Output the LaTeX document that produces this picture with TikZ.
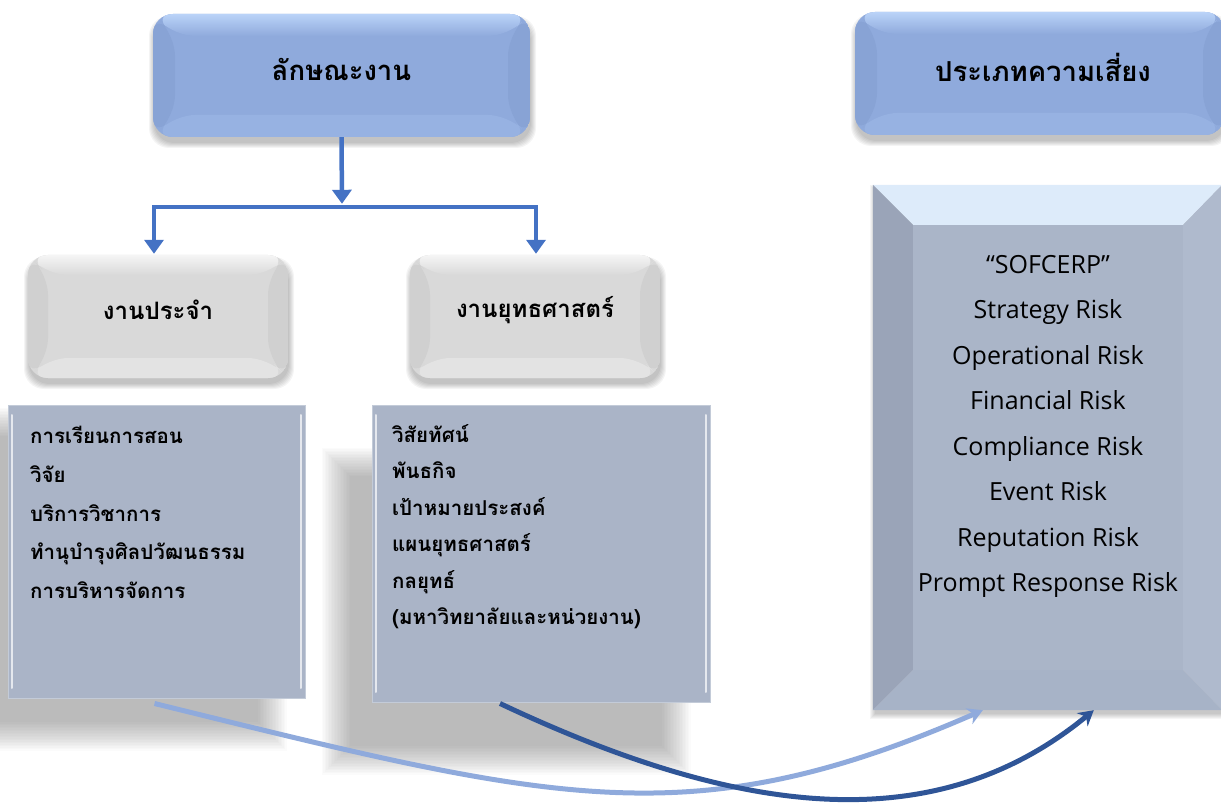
\documentclass[tikz,border=0pt]{standalone}
\usepackage{fontspec}
\newfontfamily\thaifont[Script=Thai]{Loma}
\newfontfamily\engfont{Open Sans}
\usetikzlibrary{arrows.meta,calc}
\definecolor{treeblue}{HTML}{4472C4}
\definecolor{curvelight}{HTML}{8FAADC}
\definecolor{curvedark}{HTML}{2F5597}
\definecolor{bface}{HTML}{8FAADC}
\definecolor{blight}{HTML}{BAD3F8}
\definecolor{bside}{HTML}{88A3D5}
\definecolor{bbottom}{HTML}{97B2E2}
\definecolor{gface}{HTML}{D9D9D9}
\definecolor{glight}{HTML}{F5F5F5}
\definecolor{gside}{HTML}{D0D0D0}
\definecolor{gbottom}{HTML}{E3E3E3}
\definecolor{cface}{HTML}{AAB4C7}
\definecolor{rtop}{HTML}{DDEBFA}
\definecolor{rleft}{HTML}{9AA4B8}
\definecolor{rright}{HTML}{AFBACD}
\definecolor{rbottom}{HTML}{A7B3C7}
\definecolor{rface}{HTML}{AAB5C8}
\newcommand\bevelpp[5]{%
  \fill[#1] (path picture bounding box.south west) rectangle (path picture bounding box.north east);
  \shade[top color=#2,bottom color=#1] (path picture bounding box.north west) -- (path picture bounding box.north east) -- ([shift={(-#5,-#5)}]path picture bounding box.north east) -- ([shift={(#5,-#5)}]path picture bounding box.north west) -- cycle;
  \fill[#3] (path picture bounding box.north west) -- ([shift={(#5,-#5)}]path picture bounding box.north west) -- ([shift={(#5,#5)}]path picture bounding box.south west) -- (path picture bounding box.south west) -- cycle;
  \fill[#3] (path picture bounding box.north east) -- ([shift={(-#5,-#5)}]path picture bounding box.north east) -- ([shift={(-#5,#5)}]path picture bounding box.south east) -- (path picture bounding box.south east) -- cycle;
  \fill[#4] (path picture bounding box.south west) -- ([shift={(#5,#5)}]path picture bounding box.south west) -- ([shift={(-#5,#5)}]path picture bounding box.south east) -- (path picture bounding box.south east) -- cycle;
}
\tikzset{
  bluebox/.style={rounded corners=20pt, inner sep=0pt, path picture={\bevelpp{bface}{blight}{bside}{bbottom}{22pt}}},
  graybox/.style={rounded corners=20pt, inner sep=0pt, path picture={\bevelpp{gface}{glight}{gside}{gbottom}{20pt}}},
  contentbox/.style={inner sep=0pt, fill=cface, draw=cface!70!white, line width=1pt,
    path picture={
      \draw[white,opacity=.7,line width=2pt,line cap=round] ([shift={(4pt,-10pt)}]path picture bounding box.north west) -- ([shift={(4pt,10pt)}]path picture bounding box.south west);
      \draw[white,opacity=.7,line width=2pt,line cap=round] ([shift={(-4pt,-10pt)}]path picture bounding box.north east) -- ([shift={(-4pt,10pt)}]path picture bounding box.south east);
    }},
  titletxt/.style={font=\thaifont\bfseries\fontsize{27.5}{32}\selectfont, inner sep=0pt},
  subtxt/.style={font=\thaifont\bfseries\fontsize{24}{28}\selectfont, inner sep=0pt},
  itemtxt/.style={font=\thaifont\bfseries\fontsize{20.5}{24}\selectfont, inner sep=0pt, anchor=west, text height=15pt, text depth=4pt},
  risktxt/.style={font=\engfont\fontsize{25}{30}\selectfont, inner sep=0pt, text height=18pt, text depth=5.5pt},
  treeline/.style={draw=treeblue, line width=4.5pt, -{Triangle[width=19pt,length=14pt]}, shorten >=1pt},
  lightcurve/.style={draw=curvelight, line width=5pt, -{Stealth[width=17pt,length=15pt,inset=5pt]}},
  darkcurve/.style={draw=curvedark, line width=5pt, -{Stealth[width=17pt,length=15pt,inset=5pt]}},
}
\begin{document}
\begin{tikzpicture}[x=1pt,y=-1pt]
\useasboundingbox (0,0) rectangle (1221,805);
\clip (0,0) rectangle (1221,805);
% soft shadows of the content boxes
\foreach \i in {0,...,19}{
  \fill[black,opacity=0.017] ({-28-1.5*\i},{436-1.5*\i}) rectangle ({258+1.5*\i},{722+1.5*\i});
  \fill[black,opacity=0.017] ({350-1.5*\i},{476-1.5*\i}) rectangle ({662+1.5*\i},{746+1.5*\i});
}
% drop shadows of the rounded boxes and the risk box
\foreach \i in {0,...,5}{
  \fill[black,opacity=0.045,rounded corners=20pt] ({154-\i},{21-\i}) rectangle ({531+\i},{143+\i});
  \fill[black,opacity=0.045,rounded corners=20pt] ({856-\i},{19-\i}) rectangle ({1226+\i},{141+\i});
  \fill[black,opacity=0.045,rounded corners=20pt] ({29-\i},{262-\i}) rectangle ({289+\i},{384+\i});
  \fill[black,opacity=0.045,rounded corners=20pt] ({411-\i},{262-\i}) rectangle ({661+\i},{384+\i});
  \fill[black,opacity=0.04] ({875-\i},{190-\i}) rectangle ({1224+\i},{714+\i});
}
% top boxes
\node[bluebox, minimum width=377pt, minimum height=123pt] (lak) at (341.5,75.5) {};
\node[titletxt] (lakt) at (341.5,69) {ลักษณะงาน};
\node[bluebox, minimum width=370pt, minimum height=123pt] (typ) at (1040,73.5) {};
\node[titletxt] (typt) at (1043,67) {ประเภทความเสี่ยง};
% second level
\node[graybox, minimum width=260pt, minimum height=123pt] (rout) at (158,316.5) {};
\node[subtxt] (routt) at (158,310) {งานประจำ};
\node[graybox, minimum width=250pt, minimum height=123pt] (strat) at (535,316.5) {};
\node[subtxt] (stratt) at (535,310) {งานยุทธศาสตร์};
% tree connectors
\coordinate (junc) at (342,207);
\draw[treeline] (lak.south) -- ([yshift=2.2pt]junc);
\draw[treeline] (junc) -| ([xshift=-4pt]rout.north);
\draw[treeline] (junc) -| ([xshift=1pt]strat.north);
% content boxes
\node[contentbox, minimum width=297pt, minimum height=293pt] (routc) at (156.5,551.5) {};
\node[contentbox, minimum width=338pt, minimum height=297pt] (stratc) at (541,553.5) {};
\foreach \t [count=\i] in {การเรียนการสอน, วิจัย, บริการวิชาการ, ทำนุบำรุงศิลปวัฒนธรรม, การบริหารจัดการ}
  \node[itemtxt] (ri\i) at (30,{438+38.8*(\i-1)}) {\t};
\foreach \t [count=\i] in {วิสัยทัศน์, พันธกิจ, เป้าหมายประสงค์, แผนยุทธศาสตร์, กลยุทธ์, {(มหาวิทยาลัยและหน่วยงาน)}}
  \node[itemtxt] (si\i) at (392,{437+36.4*(\i-1)}) {\t};
% risk box
\node[inner sep=0pt, minimum width=349pt, minimum height=525pt] (riskbox) at (1047.5,447.5) {};
\node[inner sep=0pt, minimum width=270pt, minimum height=445pt] (riskface) at (1048,447.5) {};
\fill[rface] (riskface.south west) rectangle (riskface.north east);
\fill[rtop] (riskbox.north west) -- (riskbox.north east) -- (riskface.north east) -- (riskface.north west) -- cycle;
\fill[rleft] (riskbox.north west) -- (riskface.north west) -- (riskface.south west) -- (riskbox.south west) -- cycle;
\fill[rright] (riskbox.north east) -- (riskface.north east) -- (riskface.south east) -- (riskbox.south east) -- cycle;
\fill[rbottom] (riskbox.south west) -- (riskface.south west) -- (riskface.south east) -- (riskbox.south east) -- cycle;
\foreach \t [count=\i] in {“SOFCERP”, Strategy Risk, Operational Risk, Financial Risk, Compliance Risk, Event Risk, Reputation Risk, Prompt Response Risk}
  \node[risktxt] (rk\i) at (1048,{267+45.5*(\i-1)}) {\t};
% curved arrows
\coordinate (s1) at ([xshift=-2pt,yshift=-5pt]routc.south);
\coordinate (s2) at ([xshift=-41pt,yshift=-1pt]stratc.south);
\coordinate (e1) at ([xshift=110pt]riskbox.south west);
\coordinate (e2) at ([xshift=221pt]riskbox.south west);
\draw[lightcurve] (s1) .. controls (555,802) and (690,838) .. (e1);
\draw[darkcurve] (s2) .. controls (730,812) and (930,845) .. (e2);
\end{tikzpicture}
\end{document}
